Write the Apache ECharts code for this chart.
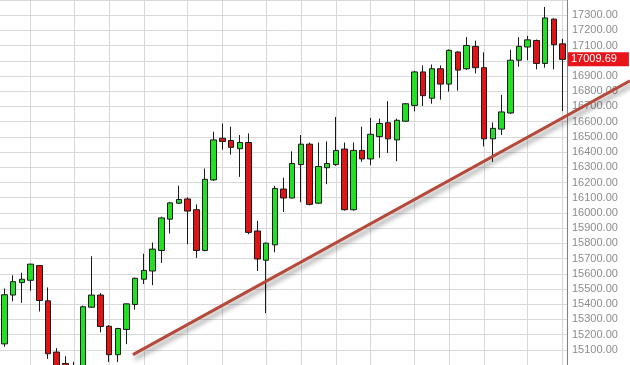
<!DOCTYPE html>
<html>
<head>
<meta charset="utf-8">
<script src="https://cdn.jsdelivr.net/npm/echarts@6/dist/echarts.min.js"></script>
<style>
html,body{margin:0;padding:0;background:#fff;}
#c{width:630px;height:365px;}
</style>
</head>
<body>
<div id="c"></div>
<script>
// ---- data ----
const categories = ["1","2","3","4","5","6","7","8","9","10","11","12","13","14","15","16","17","18","19","20",
"21","22","23","24","25","26","27","28","29","30","31","32","33","34","35","36","37","38","39","40",
"41","42","43","44","45","46","47","48","49","50","51","52","53","54","55","56","57","58","59","60",
"61","62","63","64","65"];
const opens  = [15139,15460,15542,15557,15654,15422,15085,15010,14990,14970,
                15380,15460,15255,15068,15234,15398,15564,15618,15753,15959,
                16064,16092,16021,15753,16217,16491,16476,16422,16463,15881,
                15689,15790,16157,16098,16318,16452,16064,16297,16318,16420,
                16021,16411,16355,16502,16593,16480,16603,16707,16927,16754,
                16948,16847,17058,16948,17095,16955,16487,16551,16657,17004,
                17091,17134,16983,17274,17112];
const closes = [15462,15548,15564,15663,15424,15074,14990,14980,14960,15383,
                15460,15253,15068,15240,15402,15570,15622,15762,15967,16066,
                16088,16012,15753,16221,16480,16470,16431,16463,15872,15697,
                15801,16161,16098,16325,16452,16056,16305,16325,16411,16021,
                16411,16355,16517,16588,16487,16609,16718,16927,16771,16948,
                16847,17069,16939,17101,16955,16487,16556,16664,17004,17095,
                17138,16983,17282,17106,17009.69];
const lows   = [15120,15419,15409,15488,15352,15040,14960,14950,14900,14950,
                15375,15215,15020,15020,15137,15363,15532,15525,15671,15865,
                16060,15794,15704,15748,16210,16415,16383,16237,15860,15618,
                15341,15741,16006,16095,16070,16050,16060,16189,16310,16015,
                16015,16336,16314,16362,16394,16340,16600,16668,16703,16718,
                16745,16797,16804,16940,16918,16437,16336,16512,16650,16961,
                17004,16944,16955,16944,16670];
const highs  = [15503,15590,15607,15667,15656,15510,15111,15058,15020,15391,
                15715,15473,15262,15245,15405,15575,15732,15805,15975,16072,
                16179,16103,16056,16292,16534,16588,16567,16512,16523,15948,
                15805,16178,16232,16405,16512,16463,16463,16470,16631,16463,
                16463,16567,16625,16620,16735,16620,16722,16935,16970,16976,
                16970,17075,17062,17156,17133,17056,16595,16776,17073,17156,
                17164,17140,17354,17280,17145];
const lastPrice = 17009.69;
// candle indices that carry a vertical grid line
const gridCandles = [3,8,12,16,21,25,30,34,38,42,47,51,55,60,64];
// trend line endpoints: [candle index, price]
const trendIdx = [14.92, 71.70];
const trendPrice = [15068, 16868];
// price axis range
const yMin = 15000, yMax = 17400, yStep = 100;

// ---- build ----
const candleData = opens.map((o, i) => [o, closes[i], lows[i], highs[i]]);
const trendData = trendIdx.map((x, i) => [x, trendPrice[i]]);

const chart = echarts.init(document.getElementById('c'), null, {renderer: 'canvas'});
const font = '"Liberation Sans", Arial, sans-serif';
chart.setOption({
  animation: false,
  backgroundColor: '#ffffff',
  grid: [
    {left: -2, width: 569, top: -0.5, height: 372, containLabel: false},
    {left: 0, width: 630, top: -0.5, height: 372, containLabel: false}
  ],
  xAxis: [
    {
      type: 'category', gridIndex: 0, data: categories, boundaryGap: true,
      axisLine: {show: false}, axisTick: {show: false}, axisLabel: {show: false},
      splitLine: {
        show: true, alignWithLabel: true,
        interval: (idx) => gridCandles.indexOf(idx) >= 0,
        lineStyle: {color: '#d9d9d9', width: 1}
      }
    },
    {
      type: 'value', gridIndex: 1, min: -0.2715, max: 71.70, show: false
    }
  ],
  yAxis: [
    {
      type: 'value', gridIndex: 0, position: 'right', min: yMin, max: yMax, interval: yStep,
      axisLine: {show: true, lineStyle: {color: '#808080', width: 1}},
      axisTick: {show: false},
      axisLabel: {
        show: true, margin: 5, color: '#8c8c8c', fontSize: 11, fontFamily: font,
        showMinLabel: false, showMaxLabel: false,
        formatter: (v) => v.toFixed(2)
      },
      splitLine: {show: true, lineStyle: {color: '#d9d9d9', width: 1}}
    },
    {
      type: 'value', gridIndex: 1, min: yMin, max: yMax, show: false
    }
  ],
  series: [
    {
      type: 'candlestick', xAxisIndex: 0, yAxisIndex: 0,
      data: candleData, barWidth: 6,
      itemStyle: {
        color: '#22e022', color0: '#e01414',
        borderColor: '#1a1a1a', borderColor0: '#1a1a1a', borderWidth: 1
      },
      markLine: {
        silent: true, symbol: ['none', 'none'], animation: false,
        lineStyle: {color: 'rgba(0,0,0,0)', width: 0, type: 'solid'},
        label: {
          show: true, position: 'end', distance: 1,
          formatter: () => lastPrice.toFixed(2),
          color: '#ffffff', backgroundColor: '#e8141a',
          fontSize: 11, fontFamily: font, padding: [2, 12, 1, 3]
        },
        emphasis: {disabled: true},
        data: [{yAxis: lastPrice}]
      },
      z: 3
    },
    {
      type: 'line', xAxisIndex: 1, yAxisIndex: 1,
      data: trendData, showSymbol: false, silent: true,
      lineStyle: {
        color: '#b5493a', width: 3,
        shadowColor: 'rgba(0,0,0,0.4)', shadowBlur: 5, shadowOffsetX: 2, shadowOffsetY: 4
      },
      z: 4
    }
  ]
});
</script>
</body>
</html>
